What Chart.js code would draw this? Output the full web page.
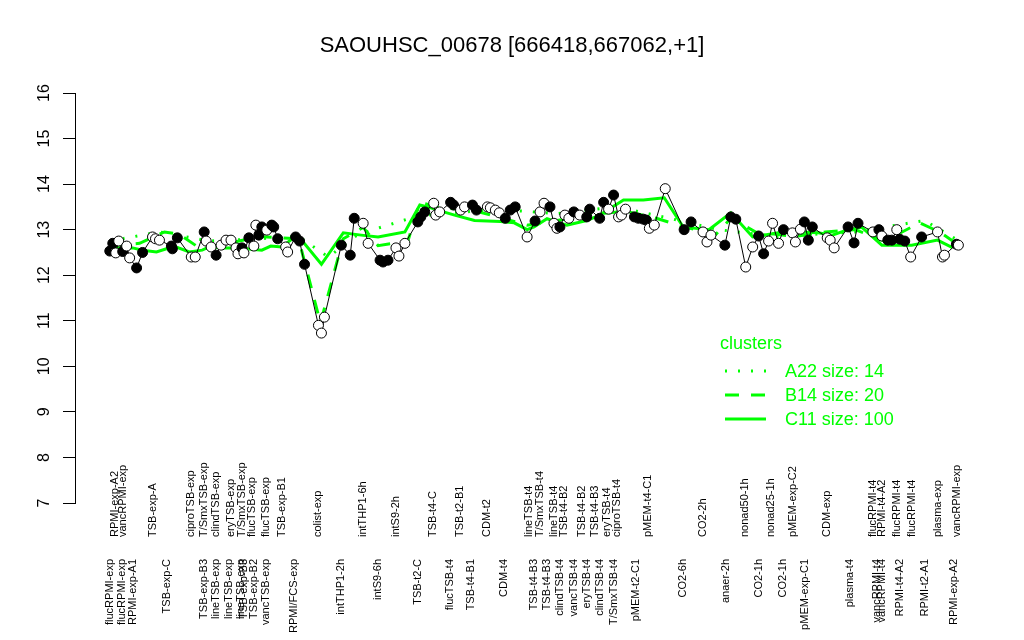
<!DOCTYPE html>
<html>
<head>
<meta charset="utf-8">
<script src="https://cdn.jsdelivr.net/npm/chart.js@4.4.1/dist/chart.umd.min.js"></script>
<style>
  html, body { margin: 0; background: #fff; }
  #wrap { width: 1024px; height: 640px; }
</style>
</head>
<body>
<div id="wrap"><canvas id="chart"></canvas></div>
<script>
// chart data
const chartTitle = 'SAOUHSC_00678 [666418,667062,+1]';
const yTicks = [7, 8, 9, 10, 11, 12, 13, 14, 15, 16];

// sample position along the axis, expression value, filled (1) or open (0) marker
const samplePos = [
  7, 7.6, 8.2, 8.8, 9.6, 10.4, 11, 12.4, 13.6, 15.6,
  16.2, 17, 19.4, 19.6, 20.6, 23.4, 24.2, 26, 26.4, 27.4,
  28.4, 29.4, 30.4, 31.4, 32.4, 32.8, 33.6, 34, 35, 36,
  36.4, 37, 37.6, 38.6, 39.6, 40, 40.8, 42.4, 42.8, 44.4,
  45.2, 46.2, 49, 49.6, 50.2,
  53.6, 55.4, 56.2, 58, 59, 61.4, 62, 63, 64.6, 65.2,
  66.4, 69, 69.6, 70.4, 72.2, 72.6, 73.4, 75.6, 76.2, 77.6,
  78.4, 80, 80.8, 83, 83.6, 84.6, 85.4, 86.6, 87.6, 88.6,
  91, 92.6, 93.6, 94.4, 95.6, 96.4, 97, 97.6, 98.6, 99.4,
  100.4,
  101.6, 103, 103.6, 105.6, 106.4, 107.4, 108.4, 109.4, 110, 110.8,
  112.6, 113.4, 114.4, 115, 115.6, 116.6, 118.8, 122.6, 124, 126.4,
  127.2, 128, 130.8, 132, 133, 135, 136.4, 137.6, 138.6, 139.6,
  140.4, 141.6, 142.6, 144.4, 145, 146, 146.8, 147.6, 148.4,
  151.4, 152, 152.8, 155.6, 156.8, 157.6, 160.6, 161.8, 162.4, 163.6,
  164.4, 165.4, 166, 167, 168.2, 170.4, 173.6, 174.6, 175, 177.4,
  177.8
];
const sampleValue = [
  12.53, 12.70, 12.49, 12.75, 12.52, 12.64, 12.38, 12.16, 12.50, 12.84,
  12.80, 12.77, 12.64, 12.58, 12.82, 12.40, 12.40, 12.95, 12.75, 12.62,
  12.44, 12.66, 12.77, 12.77, 12.60, 12.47, 12.60, 12.49, 12.82, 12.64,
  13.10, 12.88, 13.06, 12.99, 13.10, 13.06, 12.80, 12.62, 12.51, 12.84,
  12.75, 12.24, 10.90, 10.73, 11.08,
  12.66, 12.44, 13.25, 13.14, 12.70, 12.33, 12.29, 12.33, 12.60, 12.42,
  12.70, 13.17, 13.28, 13.39, 13.58, 13.32, 13.39, 13.60, 13.54, 13.43,
  13.50, 13.54, 13.43, 13.50, 13.48, 13.43, 13.37, 13.25, 13.43, 13.50,
  12.84, 13.19, 13.39, 13.58, 13.50, 13.14, 13.03, 13.06, 13.32, 13.25,
  13.39,
  13.32, 13.28, 13.45, 13.25, 13.60, 13.45, 13.76, 13.28, 13.32, 13.45,
  13.28, 13.25, 13.23, 13.21, 13.03, 13.10, 13.90, 13.00, 13.17, 12.95,
  12.73, 12.88, 12.66, 13.28, 13.23, 12.18, 12.62, 12.86, 12.47, 12.75,
  13.14, 12.70, 13.00, 12.93, 12.73, 13.01, 13.17, 12.77, 13.06,
  12.82, 12.77, 12.60, 13.06, 12.71, 13.14, 12.95, 13.00, 12.86, 12.77,
  12.77, 13.00, 12.79, 12.75, 12.40, 12.84, 12.95, 12.40, 12.44, 12.68,
  12.66
];
const sampleFilled = [
  1, 1, 0, 0, 1, 0, 0, 1, 1, 0,
  0, 0, 1, 1, 1, 0, 0, 1, 0, 0,
  1, 0, 0, 0, 0, 0, 1, 0, 1, 0,
  0, 1, 1, 0, 1, 1, 1, 0, 0, 1,
  1, 1, 0, 0, 0,
  1, 1, 1, 0, 0, 1, 1, 1, 0, 0,
  0, 1, 1, 1, 0, 0, 0, 1, 1, 0,
  0, 1, 1, 0, 0, 0, 0, 1, 1, 1,
  0, 1, 0, 0, 1, 0, 0, 1, 0, 0,
  1,
  0, 1, 1, 1, 1, 0, 1, 0, 0, 0,
  1, 1, 1, 1, 0, 0, 0, 1, 1, 0,
  0, 0, 1, 1, 1, 0, 0, 1, 1, 0,
  0, 0, 1, 0, 0, 0, 1, 1, 1,
  0, 0, 0, 1, 1, 1, 0, 1, 0, 1,
  1, 0, 1, 1, 0, 1, 0, 0, 0, 1,
  0
];

// cluster profile lines
const clusterNames = ['A22 size: 14', 'B14 size: 20', 'C11 size: 100'];
const c11Pos = [7.4, 11.6, 13.6, 16.4, 18.4, 20.4, 23, 25.6, 27, 29.6, 33, 37.6, 39.4, 41.6, 44, 45.6, 49.6,
  54, 57.6, 61, 66.4, 69.4, 71, 73, 76.4, 80.4, 85.6, 88.4, 91, 92.4, 95, 99, 103, 105.6, 110.4, 114.4,
  118.6, 122.4, 127.6, 132, 136.4, 141.6, 145.6, 149.6, 152.4, 155.6, 158.4, 162.4, 168.4, 173.6, 176.4, 178];
const c11Value = [12.60, 12.60, 12.55, 12.51, 12.58, 12.62, 12.51, 12.55, 12.62, 12.60, 12.60, 12.55, 12.64, 12.62, 12.82, 12.77, 12.24,
  12.93, 12.88, 12.84, 12.95, 13.54, 13.50, 13.43, 13.32, 13.20, 13.18, 13.15, 13.00, 13.06, 13.24, 13.10, 13.20, 13.32, 13.65, 13.65,
  13.70, 13.06, 13.00, 13.37, 12.84, 12.93, 12.95, 12.93, 12.88, 13.00, 13.05, 12.66, 12.66, 12.77, 12.62, 12.70];
const b14Pos = [7, 13, 18, 21, 25, 31, 37, 45, 49.4, 54, 58, 61, 67, 69.4, 73, 81, 91, 97, 105, 111, 117, 123, 129,
  132, 137, 145, 151, 157, 163, 170, 174, 178];
const b14Value = [12.65, 12.70, 12.95, 12.90, 12.60, 12.70, 12.85, 12.80, 10.95, 12.80, 13.05, 12.65, 12.75, 13.60, 13.50, 13.40,
  13.10, 13.20, 13.35, 13.40, 13.25, 13.05, 12.90, 13.25, 12.95, 12.85, 12.95, 13.00, 12.75, 13.15, 12.95, 12.65];
const a22Pos = [7, 17, 27, 37, 45, 51, 57, 69, 85, 97, 109, 119.6, 129.6, 141, 157, 171, 178];
const a22Value = [12.75, 12.95, 12.75, 12.80, 12.85, 12.40, 12.90, 13.30, 13.45, 13.35, 13.50, 13.25, 13.00, 12.85, 12.95, 13.20, 12.75];

// sample names, written above and below the marker strip
const topLabels = ['RPMI-exp-A2', 'vancRPMI-exp', 'TSB-exp-A', 'ciproTSB-exp', 'T/SmxTSB-exp', 'clindTSB-exp', 'eryTSB-exp',
  'T/SmxTSB-exp', 'flucTSB-exp', 'flucTSB-exp', 'TSB-exp-B1', 'colist-exp', 'intTHP1-6h', 'intS9-2h', 'TSB-t4-C', 'TSB-t2-B1',
  'CDM-t2', 'lineTSB-t4', 'T/SmxTSB-t4', 'lineTSB-t4', 'TSB-t4-B2', 'TSB-t4-B2', 'TSB-t4-B3', 'eryTSB-t4', 'ciproTSB-t4',
  'pMEM-t4-C1', 'CO2-2h', 'nonad50-1h', 'nonad25-1h', 'pMEM-exp-C2', 'CDM-exp', 'flucRPMI-t4', 'RPMI-t4-A2', 'flucRPMI-t4',
  'flucRPMI-t4', 'plasma-exp', 'vancRPMI-exp'];
const topLabelPos = [8, 9.6, 15.6, 23.4, 26, 28.4, 31.4, 33.6, 35.6, 38.4, 41.6, 49, 58, 64.6, 72, 77.4,
  83, 91.4, 93.6, 96.4, 98.4, 102, 104.6, 107, 109, 115.4, 126.4, 134.8, 140, 144.6, 151.4, 160.6, 162.4, 165.4,
  168.4, 173.6, 177.6];
const bottomLabels = ['flucRPMI-exp', 'flucRPMI-exp', 'RPMI-exp-A1', 'TSB-exp-C', 'TSB-exp-B3', 'lineTSB-exp', 'lineTSB-exp',
  'lineTSB-exp', 'TSB-exp-B3', 'TSB-exp-B2', 'vancTSB-exp', 'RPMI/FCS-exp', 'intTHP1-2h', 'intS9-6h', 'TSB-t2-C', 'flucTSB-t4',
  'TSB-t4-B1', 'CDM-t4', 'TSB-t4-B3', 'TSB-t4-B3', 'clindTSB-t4', 'vancTSB-t4', 'eryTSB-t4', 'clindTSB-t4', 'T/SmxTSB-t4',
  'pMEM-t2-C1', 'CO2-6h', 'anaer-2h', 'CO2-1h', 'CO2-1h', 'pMEM-exp-C1', 'plasma-t4', 'vancRPMI-t4', 'vancRPMI-t4',
  'RPMI-t4-A2', 'RPMI-t2-A1', 'RPMI-exp-A2'];
const bottomLabelPos = [7, 9.4, 11.6, 18.6, 26, 28.4, 31, 33.4, 34, 36, 38.4, 44, 53.6, 61, 69, 75.4,
  79.6, 86.4, 92.4, 95, 97.6, 100.4, 103, 105.6, 108.4, 113, 122.4, 131, 137.6, 142.4, 147, 156, 161.4, 162.4,
  166, 171, 177];

const green = '#00ff00';
const labelFont = "'Liberation Sans', Arial, Helvetica, sans-serif";
Chart.defaults.font.family = labelFont;

const pts = (xs, ys) => xs.map((x, i) => ({ x: x, y: ys[i] }));
const markerFill = sampleFilled.map(f => f ? '#000' : '#fff');

// draws the axis numbers, the sample names and the cluster key
const textPlugin = {
  id: 'textPlugin',
  afterDraw(chart) {
    const ctx = chart.ctx;
    const xs = chart.scales.x, ys = chart.scales.y;
    ctx.save();
    ctx.fillStyle = '#000';

    ctx.font = '16px ' + labelFont;
    ctx.textAlign = 'center';
    ctx.textBaseline = 'alphabetic';
    yTicks.forEach(v => {
      ctx.save();
      ctx.translate(49, ys.getPixelForValue(v));
      ctx.rotate(-Math.PI / 2);
      ctx.fillText(String(v), 0, 0);
      ctx.restore();
    });

    ctx.font = '11px ' + labelFont;
    ctx.textBaseline = 'middle';
    topLabels.forEach((t, i) => {
      ctx.save();
      ctx.translate(xs.getPixelForValue(topLabelPos[i]), 537);
      ctx.rotate(-Math.PI / 2);
      ctx.textAlign = 'left';
      ctx.fillText(t, 0, 0);
      ctx.restore();
    });
    bottomLabels.forEach((t, i) => {
      ctx.save();
      ctx.translate(xs.getPixelForValue(bottomLabelPos[i]), 559);
      ctx.rotate(-Math.PI / 2);
      ctx.textAlign = 'right';
      ctx.fillText(t, 0, 0);
      ctx.restore();
    });

    // cluster key
    ctx.fillStyle = green;
    ctx.strokeStyle = green;
    ctx.font = '18px ' + labelFont;
    ctx.textAlign = 'left';
    ctx.textBaseline = 'alphabetic';
    ctx.fillText('clusters', 720, 349);
    const dashes = [[2, 11], [14, 12], []];
    const rowY = [371, 395, 419];
    ctx.textBaseline = 'middle';
    clusterNames.forEach((name, i) => {
      ctx.beginPath();
      ctx.lineWidth = 3;
      ctx.setLineDash(dashes[i]);
      ctx.moveTo(725, rowY[i]);
      ctx.lineTo(766, rowY[i]);
      ctx.stroke();
      ctx.setLineDash([]);
      ctx.fillText(name, 785, rowY[i] + 1);
    });
    ctx.restore();
  }
};

new Chart(document.getElementById('chart'), {
  type: 'scatter',
  data: {
    datasets: [
      {
        data: pts(samplePos, sampleValue),
        showLine: true,
        borderColor: '#000',
        borderWidth: 1,
        pointRadius: 5,
        pointBorderWidth: 1,
        pointBorderColor: '#000',
        pointBackgroundColor: markerFill
      },
      {
        data: samplePos.map(x => ({ x: x, y: 6.0 })),
        showLine: false,
        clip: false,
        pointRadius: 2.4,
        pointBorderWidth: 1,
        pointBorderColor: '#000',
        pointBackgroundColor: markerFill
      },
      {
        data: pts(c11Pos, c11Value),
        showLine: true,
        borderColor: green,
        borderWidth: 3,
        pointRadius: 0
      },
      {
        data: pts(b14Pos, b14Value),
        showLine: true,
        borderColor: green,
        borderWidth: 3,
        borderDash: [14, 12],
        pointRadius: 0
      },
      {
        data: pts(a22Pos, a22Value),
        showLine: true,
        borderColor: green,
        borderWidth: 3,
        borderDash: [2, 11],
        pointRadius: 0
      }
    ]
  },
  options: {
    responsive: true,
    maintainAspectRatio: false,
    animation: false,
    devicePixelRatio: 1,
    events: [],
    layout: { padding: { left: 0, right: 0, top: 0, bottom: 137 } },
    plugins: {
      legend: { display: false },
      tooltip: { enabled: false },
      title: {
        display: true,
        text: chartTitle,
        color: '#000',
        font: { size: 22, weight: 'normal' },
        padding: { top: 33, bottom: 33.6 }
      }
    },
    scales: {
      x: { type: 'linear', min: 0, max: 189.8, display: false },
      y: {
        min: 7,
        max: 16,
        afterFit: s => { s.width = 75; },
        afterBuildTicks: s => { s.ticks = yTicks.map(v => ({ value: v })); },
        ticks: { display: false },
        grid: { drawOnChartArea: false, tickLength: 12, color: '#000', lineWidth: 1 },
        border: { color: '#000', width: 1 }
      }
    }
  },
  plugins: [textPlugin]
});
</script>
</body>
</html>
